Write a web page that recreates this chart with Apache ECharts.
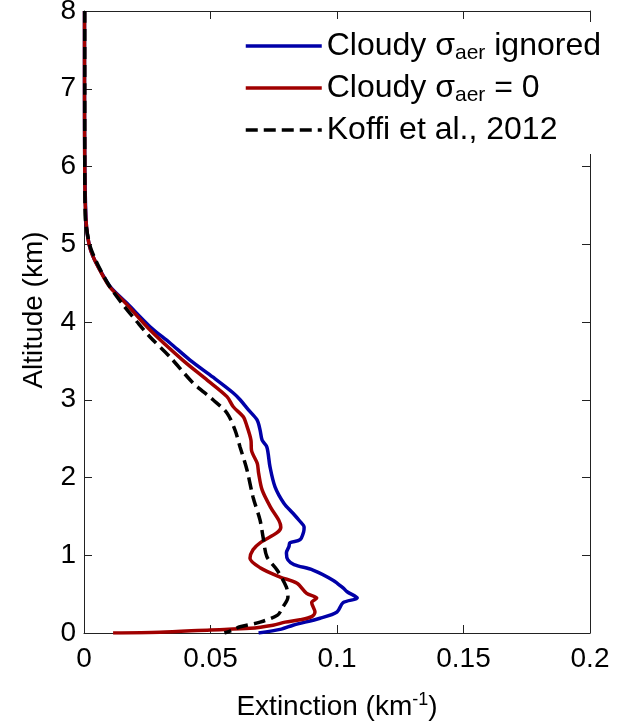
<!DOCTYPE html>
<html><head><meta charset="utf-8">
<script src="https://cdn.jsdelivr.net/npm/echarts@6/dist/echarts.min.js"></script>
<style>html,body{margin:0;padding:0;background:#fff}#c{width:621px;height:721px}</style>
</head><body><div id="c"></div>
<script>
// Extinction profiles (altitude in km, extinction in km^-1)
var blueAlt = [8.0,7.0,6.0,5.5,5.22,5.0,4.84,4.67,4.45,4.24,3.94,3.73,3.51,3.29,3.09,3.0,2.87,2.74,2.61,2.48,2.39,2.14,1.88,1.67,1.54,1.45,1.36,1.30,1.20,1.16,1.11,1.03,0.94,0.88,0.81,0.68,0.58,0.53,0.45,0.39,0.27,0.19,0.10,0.05,0.0];
var blueExt = [0.0002,0.0002,0.0003,0.0006,0.001,0.002,0.0036,0.0063,0.0105,0.017,0.0261,0.034,0.0419,0.051,0.0589,0.0617,0.0650,0.0684,0.0696,0.0704,0.0723,0.0735,0.0755,0.0790,0.0826,0.0850,0.0870,0.0868,0.0854,0.0814,0.0810,0.0800,0.0806,0.0830,0.0905,0.0984,0.1024,0.1040,0.1080,0.1024,0.1000,0.0933,0.0826,0.0780,0.0690];

var redAlt = [8.0,7.0,6.0,5.5,5.22,5.0,4.84,4.67,4.45,4.24,3.90,3.51,3.25,3.04,2.91,2.78,2.70,2.48,2.35,2.18,2.06,1.84,1.62,1.45,1.36,1.29,1.16,1.07,0.96,0.84,0.72,0.64,0.51,0.45,0.39,0.27,0.21,0.17,0.14,0.10,0.06,0.04,0.01,0.0];
var redExt = [0.0002,0.0002,0.0003,0.0005,0.001,0.002,0.0036,0.0062,0.0102,0.0165,0.026,0.039,0.0488,0.0565,0.0590,0.0630,0.0640,0.0660,0.0662,0.0685,0.0690,0.0704,0.0737,0.0770,0.0778,0.0763,0.0696,0.0668,0.0656,0.0696,0.0775,0.0842,0.0880,0.0920,0.0900,0.0913,0.0900,0.0854,0.0795,0.0747,0.0656,0.050,0.030,0.0115];

var koffiAlt = [8.0,7.0,6.0,5.5,5.3,5.0,4.84,4.67,4.45,4.24,4.0,3.81,3.55,3.22,3.0,2.83,2.61,2.39,2.10,1.75,1.45,1.23,0.98,0.81,0.59,0.46,0.33,0.23,0.14,0.08,0.04,0.0];
var koffiExt = [0.0003,0.0003,0.0003,0.0004,0.0006,0.0022,0.004,0.0065,0.0103,0.015,0.021,0.026,0.034,0.043,0.051,0.0565,0.0597,0.0617,0.0644,0.0668,0.0696,0.0708,0.0723,0.0763,0.0800,0.0806,0.0785,0.0765,0.0696,0.0617,0.0589,0.0555];

var xTicks = [0, 0.05, 0.1, 0.15, 0.2];
var yTicks = [0,1,2,3,4,5,6,7,8];
var seriesNames = ['Cloudy σaer ignored', 'Cloudy σaer = 0', 'Koffi et al., 2012'];

function pairs(ext, alt){ return alt.map(function(a,i){ return [ext[i], a]; }); }

var FONT = 'Liberation Sans, Arial, sans-serif';
var chart = echarts.init(document.getElementById('c'), null, {renderer:'canvas'});
var axisLineStyle = {color:'#222', width:1};
function xAx(pos, showLabel){
  return {type:'value', position:pos, min:0, max:0.2, interval:0.05,
    axisLine:{show:true, onZero:false, lineStyle:axisLineStyle},
    axisTick:{show:true, inside:true, length:8, lineStyle:axisLineStyle},
    splitLine:{show:false},
    axisLabel:{show:showLabel, fontFamily:FONT, fontSize:28, color:'#000', margin:12,
      formatter:function(v){ var t = xTicks.filter(function(k){return Math.abs(k-v)<1e-9;}); return t.length? String(t[0]) : ''; }}
  };
}
function yAx(pos, showLabel){
  return {type:'value', position:pos, min:0, max:8, interval:1,
    axisLine:{show:true, onZero:false, lineStyle:axisLineStyle},
    axisTick:{show:true, inside:true, length:8, lineStyle:axisLineStyle},
    splitLine:{show:false},
    axisLabel:{show:showLabel, fontFamily:FONT, fontSize:28, color:'#000', margin:8,
      formatter:function(v){ return yTicks.indexOf(v) >= 0 ? String(v) : ''; }}
  };
}
var xb = xAx('bottom', true);
xb.name = '{a|Extinction (km}{s|-1}{a|)}';
xb.nameLocation = 'middle';
xb.nameGap = 58;
xb.nameTextStyle = {rich:{
  a:{fontFamily:FONT, fontSize:28, color:'#000', lineHeight:32},
  s:{fontFamily:FONT, fontSize:18, color:'#000', lineHeight:16, verticalAlign:'top'}
}};
var xt = xAx('top', false);
var yl = yAx('left', true);
yl.name = 'Altitude (km)';
yl.nameLocation = 'middle';
yl.nameGap = 36;
yl.nameTextStyle = {fontFamily:FONT, fontSize:28, color:'#000', padding:[0,0,0,24]};
var yr = yAx('right', false);

var rich = {
  a:{fontFamily:FONT, fontSize:32, color:'#000', lineHeight:36},
  sub:{fontFamily:FONT, fontSize:21, color:'#000', lineHeight:15, verticalAlign:'bottom'}
};

chart.setOption({
  animation:false,
  backgroundColor:'#fff',
  grid:{left:84, right:31, top:11, bottom:88, containLabel:false, outerBoundsMode:'none'},
  xAxis:[xb, xt],
  yAxis:[yl, yr],
  legend:{
    orient:'vertical', left:240, top:22, padding:[8,6,8,4],
    backgroundColor:'#fff', itemWidth:76, itemHeight:16, itemGap:8,
    itemStyle:{opacity:0},
    lineStyle:{width:3.5},
    data:seriesNames,
    textStyle:{rich:rich},
    formatter:function(n){
      if(n===seriesNames[0]) return '{a|Cloudy σ}{sub|aer}{a| ignored}';
      if(n===seriesNames[1]) return '{a|Cloudy σ}{sub|aer}{a| = 0}';
      return '{a|Koffi et al., 2012}';
    }
  },
  series:[
    {name:seriesNames[0], type:'line', data:pairs(blueExt, blueAlt), showSymbol:false, symbol:'none', smooth:0.3,
      lineStyle:{color:'#0000a8', width:3.5}, itemStyle:{color:'#0000a8'}},
    {name:seriesNames[1], type:'line', data:pairs(redExt, redAlt), showSymbol:false, symbol:'none', smooth:0.3,
      lineStyle:{color:'#a00000', width:3.5}, itemStyle:{color:'#a00000'}},
    {name:seriesNames[2], type:'line', data:pairs(koffiExt, koffiAlt), showSymbol:false, symbol:'none', smooth:0.3,
      lineStyle:{color:'#000', width:3.5, type:[12,6]}, itemStyle:{color:'#000'}}
  ]
});
</script></body></html>
